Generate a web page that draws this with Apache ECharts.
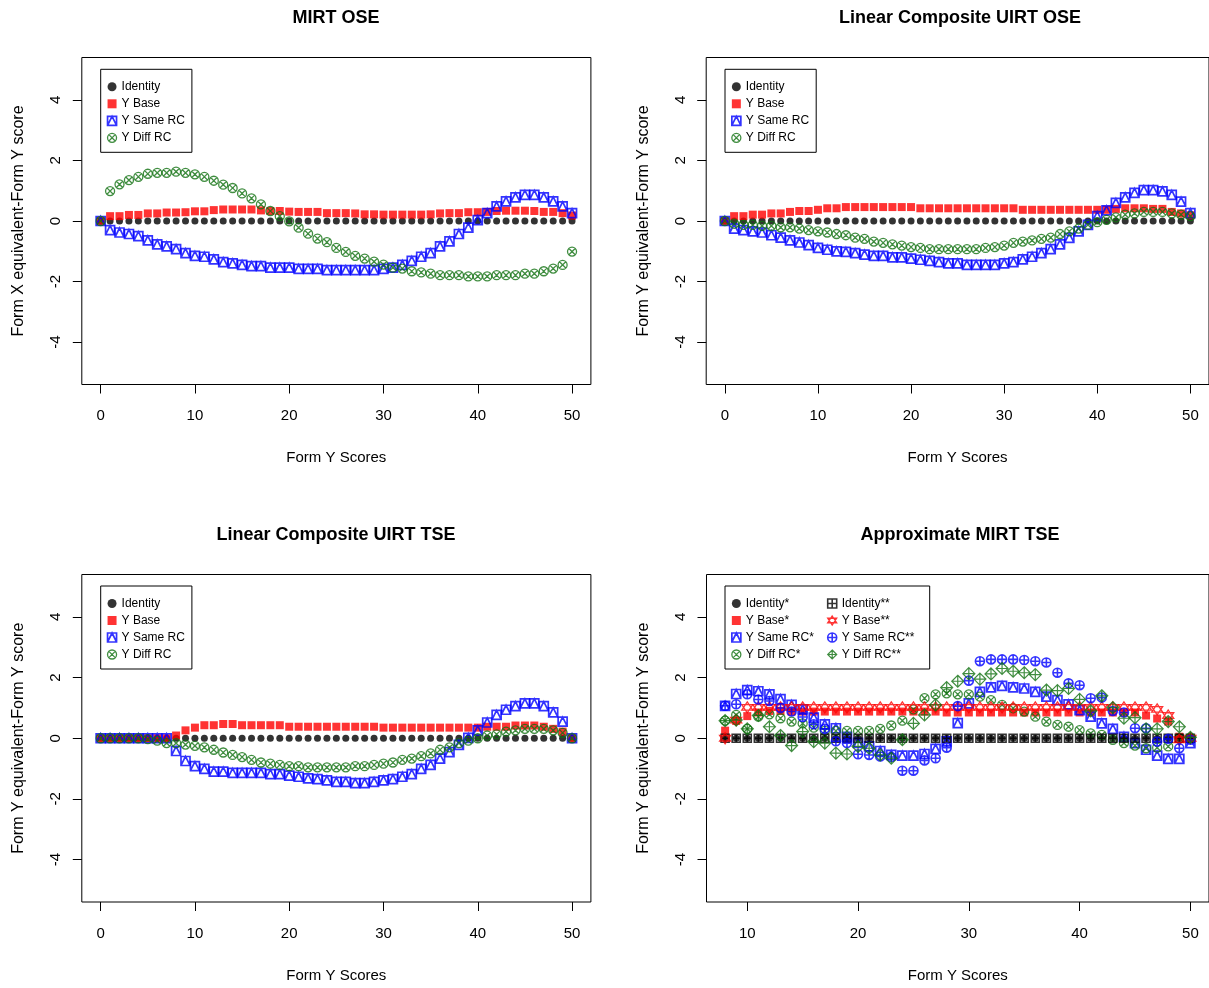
<!DOCTYPE html>
<html><head><meta charset="utf-8">
<script src="https://cdn.jsdelivr.net/npm/echarts@6/dist/echarts.min.js"></script>
<style>html,body{margin:0;padding:0;background:#fff}#c{width:1209px;height:988px}</style>
</head><body><div id="c"></div>
<script>
// ---------- data ----------
const scoresAll = [0,1,2,3,4,5,6,7,8,9,10,11,12,13,14,15,16,17,18,19,20,21,22,23,24,25,26,27,28,29,30,31,32,33,34,35,36,37,38,39,40,41,42,43,44,45,46,47,48,49,50];
const scores8 = [8,9,10,11,12,13,14,15,16,17,18,19,20,21,22,23,24,25,26,27,28,29,30,31,32,33,34,35,36,37,38,39,40,41,42,43,44,45,46,47,48,49,50];

const identity51 = [0,0,0,0,0,0,0,0,0,0,0,0,0,0,0,0,0,0,0,0,0,0,0,0,0,0,0,0,0,0,0,0,0,0,0,0,0,0,0,0,0,0,0,0,0,0,0,0,0,0,0];
const identity43 = [0,0,0,0,0,0,0,0,0,0,0,0,0,0,0,0,0,0,0,0,0,0,0,0,0,0,0,0,0,0,0,0,0,0,0,0,0,0,0,0,0,0,0];

// MIRT OSE
const mirtOseBase = [0,0.16,0.16,0.2,0.2,0.25,0.25,0.28,0.28,0.29,0.32,0.32,0.36,0.38,0.38,0.38,0.38,0.35,0.33,0.33,0.31,0.3,0.3,0.3,0.26,0.26,0.26,0.25,0.22,0.22,0.21,0.21,0.21,0.21,0.21,0.22,0.25,0.26,0.26,0.29,0.29,0.3,0.33,0.34,0.34,0.34,0.33,0.3,0.3,0.26,0.18];
const mirtOseSame = [0,-0.3,-0.38,-0.43,-0.5,-0.64,-0.77,-0.84,-0.93,-1.06,-1.15,-1.18,-1.27,-1.36,-1.4,-1.45,-1.49,-1.49,-1.54,-1.54,-1.54,-1.58,-1.58,-1.58,-1.62,-1.62,-1.62,-1.62,-1.62,-1.62,-1.58,-1.54,-1.45,-1.32,-1.18,-1.06,-0.84,-0.67,-0.43,-0.22,0.03,0.26,0.48,0.65,0.78,0.86,0.86,0.78,0.65,0.48,0.26];
const mirtOseDiff = [0,0.99,1.21,1.35,1.46,1.56,1.59,1.59,1.63,1.59,1.54,1.46,1.33,1.2,1.09,0.91,0.75,0.55,0.33,0.16,-0.01,-0.22,-0.42,-0.58,-0.7,-0.89,-1.02,-1.15,-1.24,-1.34,-1.44,-1.54,-1.57,-1.66,-1.7,-1.74,-1.79,-1.79,-1.79,-1.83,-1.83,-1.83,-1.79,-1.79,-1.79,-1.74,-1.74,-1.66,-1.57,-1.45,-1.01];

// Linear Composite UIRT OSE
const lcOseBase = [0,0.16,0.16,0.21,0.21,0.25,0.25,0.3,0.33,0.33,0.37,0.42,0.42,0.46,0.46,0.46,0.46,0.46,0.46,0.46,0.46,0.42,0.42,0.42,0.42,0.42,0.42,0.42,0.42,0.42,0.42,0.42,0.37,0.37,0.37,0.37,0.37,0.37,0.37,0.37,0.37,0.37,0.4,0.42,0.42,0.42,0.4,0.4,0.3,0.25,0.19];
const lcOseSame = [0,-0.25,-0.3,-0.34,-0.38,-0.47,-0.55,-0.64,-0.71,-0.8,-0.89,-0.95,-1.0,-1.02,-1.06,-1.11,-1.15,-1.15,-1.2,-1.2,-1.24,-1.28,-1.32,-1.36,-1.4,-1.4,-1.45,-1.45,-1.45,-1.45,-1.4,-1.36,-1.27,-1.18,-1.06,-0.93,-0.77,-0.56,-0.34,-0.13,0.16,0.35,0.6,0.78,0.93,1.02,1.02,0.98,0.86,0.64,0.26];
const lcOseDiff = [0,-0.09,-0.13,-0.13,-0.16,-0.16,-0.21,-0.21,-0.25,-0.3,-0.34,-0.38,-0.43,-0.47,-0.55,-0.59,-0.68,-0.72,-0.77,-0.81,-0.86,-0.89,-0.93,-0.93,-0.93,-0.93,-0.93,-0.93,-0.89,-0.86,-0.81,-0.72,-0.68,-0.64,-0.59,-0.55,-0.43,-0.34,-0.25,-0.13,-0.04,0.04,0.12,0.21,0.25,0.3,0.3,0.3,0.25,0.21,0.16];

// Linear Composite UIRT TSE
const lcTseBase = [0,0,0,0,0,0,0,0,0.09,0.26,0.35,0.43,0.43,0.47,0.47,0.43,0.43,0.43,0.43,0.43,0.38,0.38,0.38,0.38,0.38,0.38,0.38,0.38,0.38,0.38,0.35,0.35,0.35,0.35,0.35,0.35,0.35,0.35,0.35,0.35,0.35,0.38,0.38,0.38,0.42,0.42,0.42,0.38,0.31,0.22,0];
const lcTseSame = [0,0,0,0,0,0,0,0,-0.42,-0.75,-0.92,-1.01,-1.1,-1.1,-1.14,-1.14,-1.14,-1.14,-1.18,-1.18,-1.23,-1.27,-1.32,-1.35,-1.39,-1.44,-1.44,-1.48,-1.48,-1.44,-1.39,-1.35,-1.27,-1.18,-1.01,-0.88,-0.67,-0.46,-0.22,0.01,0.26,0.52,0.77,0.94,1.06,1.15,1.15,1.06,0.85,0.55,0];
const lcTseDiff = [0,0,0,0,0,-0.03,-0.08,-0.16,-0.16,-0.21,-0.25,-0.3,-0.38,-0.47,-0.55,-0.62,-0.71,-0.8,-0.84,-0.88,-0.92,-0.92,-0.96,-0.96,-0.96,-0.96,-0.96,-0.92,-0.92,-0.88,-0.84,-0.8,-0.71,-0.67,-0.59,-0.5,-0.38,-0.3,-0.16,-0.08,0,0.09,0.13,0.22,0.26,0.31,0.31,0.31,0.26,0.18,0];

// Approximate MIRT TSE (scores 8..50)
const apBaseA = [0.25,0.57,0.73,0.85,0.9,0.9,0.88,0.88,0.88,0.88,0.88,0.88,0.88,0.88,0.88,0.88,0.88,0.88,0.88,0.88,0.85,0.85,0.85,0.85,0.85,0.85,0.85,0.85,0.85,0.85,0.85,0.85,0.85,0.85,0.85,0.85,0.85,0.85,0.75,0.65,0.55,0.05,0];
const apSameA = [1.07,1.46,1.59,1.55,1.45,1.29,1.1,0.95,0.68,0.46,0.33,0.05,-0.15,-0.27,-0.42,-0.55,-0.57,-0.57,-0.52,-0.35,-0.1,0.5,1.15,1.53,1.68,1.73,1.68,1.64,1.53,1.37,1.26,1.12,0.93,0.71,0.49,0.31,0.05,-0.16,-0.38,-0.57,-0.68,-0.68,-0.16];
const apDiffA = [0.58,0.77,0.31,0.71,0.79,0.66,0.55,0.49,0.35,0.24,0.24,0.24,0.24,0.24,0.31,0.42,0.58,0.95,1.32,1.45,1.48,1.45,1.45,1.37,1.26,1.1,0.99,0.88,0.71,0.55,0.44,0.38,0.27,0.16,0.11,-0.05,-0.16,-0.24,-0.33,-0.31,-0.27,0,0];
const apBaseB = [0,0.6,1.02,1.02,1.02,1.02,1.02,1.02,1.02,1.02,1.02,1.02,1.02,1.02,1.02,1.02,1.02,1.02,1.02,1.02,1.02,1.02,1.02,1.02,1.02,1.02,1.02,1.02,1.02,1.02,1.02,1.02,1.02,1.02,1.02,1.02,1.02,1.02,1.02,0.95,0.75,-0.05,0];
const apSameB = [1.07,1.12,1.45,1.28,1.23,1.0,0.88,0.7,0.46,0.31,-0.1,-0.16,-0.53,-0.55,-0.6,-0.62,-1.07,-1.07,-0.73,-0.66,-0.31,1.06,1.9,2.54,2.6,2.6,2.6,2.58,2.54,2.5,2.16,1.81,1.75,1.32,1.34,0.9,0.85,0.33,0.33,-0.11,-0.02,-0.33,-0.05];
const apDiffB = [0.58,0.6,0.31,0.75,0.38,0.09,-0.24,0.22,-0.11,-0.16,-0.49,-0.52,-0.27,-0.33,-0.55,-0.66,-0.05,0.49,0.77,1.1,1.67,1.88,2.13,1.95,2.12,2.3,2.21,2.16,2.1,1.59,1.57,1.64,1.28,0.9,1.4,1.01,0.66,0.68,0.31,0.31,0.55,0.38,0.03];

// tick labels
const xTicksFull = [0,10,20,30,40,50];
const xTicks8 = [10,20,30,40,50];
const yTicks = [-4,-2,0,2,4];

const titles = ['MIRT OSE','Linear Composite UIRT OSE','Linear Composite UIRT TSE','Approximate MIRT TSE'];
const yNames = ['Form X equivalent-Form Y score','Form Y equivalent-Form Y score','Form Y equivalent-Form Y score','Form Y equivalent-Form Y score'];
const xName = 'Form Y Scores';
const legend4 = ['Identity','Y Base','Y Same RC','Y Diff RC'];
const legend8 = ['Identity*','Y Base*','Y Same RC*','Y Diff RC*','Identity**','Y Base**','Y Same RC**','Y Diff RC**'];

// ---------- styles ----------
const FONT = '"Liberation Sans", Arial, Helvetica, sans-serif';
const RED = '#ff0000', BLUE = '#0000ff', GREEN = '#107010', BLACK = '#000000';
const NOFILL = 'rgba(0,0,0,0)';
const SYM_SAME = 'path://M0,0L20,0L20,20L0,20Z M0,20L10,0L20,20';
const SYM_DIFF = 'path://M10,0A10,10,0,1,1,9.99,0Z M3,3L17,17 M17,3L3,17';
const SYM_IDB = 'path://M0,0L20,0L20,20L0,20Z M10,0L10,20 M0,10L20,10';
const SYM_STAR = 'path://M10,0L20,15L0,15Z M0,5L20,5L10,20Z';
const SYM_CPLUS = 'path://M10,0A10,10,0,1,1,9.99,0Z M10,0L10,20 M0,10L20,10';
const SYM_DPLUS = 'path://M10,0L20,10L10,20L0,10Z M10,0L10,20 M0,10L20,10';

const styles = {
  'Identity':   {symbol:'circle', symbolSize:7, itemStyle:{color:BLACK}},
  'Y Base':     {symbol:'rect', symbolSize:8, itemStyle:{color:RED}},
  'Y Same RC':  {symbol:SYM_SAME, symbolSize:9, itemStyle:{color:NOFILL, borderColor:BLUE, borderWidth:1.7}},
  'Y Diff RC':  {symbol:SYM_DIFF, symbolSize:9, itemStyle:{color:NOFILL, borderColor:GREEN, borderWidth:1.3}},
  'Identity*':  {symbol:'circle', symbolSize:7, itemStyle:{color:BLACK}},
  'Y Base*':    {symbol:'rect', symbolSize:8, itemStyle:{color:RED}},
  'Y Same RC*': {symbol:SYM_SAME, symbolSize:9, itemStyle:{color:NOFILL, borderColor:BLUE, borderWidth:1.7}},
  'Y Diff RC*': {symbol:SYM_DIFF, symbolSize:9, itemStyle:{color:NOFILL, borderColor:GREEN, borderWidth:1.3}},
  'Identity**': {symbol:SYM_IDB, symbolSize:8, itemStyle:{color:NOFILL, borderColor:BLACK, borderWidth:1.6}},
  'Y Base**':   {symbol:SYM_STAR, symbolSize:11, itemStyle:{color:NOFILL, borderColor:RED, borderWidth:1.3}},
  'Y Same RC**':{symbol:SYM_CPLUS, symbolSize:9, itemStyle:{color:NOFILL, borderColor:BLUE, borderWidth:1.6}},
  'Y Diff RC**':{symbol:SYM_DPLUS, symbolSize:12, itemStyle:{color:NOFILL, borderColor:GREEN, borderWidth:1.2}}
};

// ---------- layout ----------
const grids = [
  {left:81.8, top:57.5, width:509.1, height:327},
  {left:706.2, top:57.5, width:509.1, height:327},
  {left:81.8, top:574.5, width:509.1, height:327.5},
  {left:706.5, top:574.5, width:508.7, height:327.5}
];
const xRanges = [[-2,52],[-2,52],[-2,52],[6.32,51.68]];
const xTickSets = [xTicksFull, xTicksFull, xTicksFull, xTicks8];
const titlePos = [[336,9],[960,9],[336,526],[960,526]];
const legendPos = [[100.7,69.3],[725,69.3],[100.7,586],[725,586]];

function pairs(xs, ys){ return xs.map((x,i)=>[x, ys[i]]); }
function legendItems(names){
  return names.map(n=>({name:n, icon:styles[n].symbol, itemStyle:Object.assign({}, styles[n].itemStyle)}));
}

const panels = [
  {x:scoresAll, series:[['Identity',identity51],['Y Base',mirtOseBase],['Y Same RC',mirtOseSame],['Y Diff RC',mirtOseDiff]]},
  {x:scoresAll, series:[['Identity',identity51],['Y Base',lcOseBase],['Y Same RC',lcOseSame],['Y Diff RC',lcOseDiff]]},
  {x:scoresAll, series:[['Identity',identity51],['Y Base',lcTseBase],['Y Same RC',lcTseSame],['Y Diff RC',lcTseDiff]]},
  {x:scores8, series:[['Identity*',identity43],['Y Base*',apBaseA],['Y Same RC*',apSameA],['Y Diff RC*',apDiffA],
                      ['Identity**',identity43],['Y Base**',apBaseB],['Y Same RC**',apSameB],['Y Diff RC**',apDiffB]]}
];

const option = {
  backgroundColor:'#ffffff',
  animation:false,
  title: titles.map((t,i)=>({text:t, left:titlePos[i][0], top:titlePos[i][1], textAlign:'center', padding:0,
    textStyle:{fontFamily:FONT, fontSize:18, fontWeight:'bold', color:'#000'}})),
  grid: grids.map(g=>Object.assign({show:true, borderColor:'#000', borderWidth:1, backgroundColor:'rgba(0,0,0,0)'}, g)),
  xAxis: grids.map((g,i)=>({
    type:'value', gridIndex:i, min:xRanges[i][0], max:xRanges[i][1],
    axisLine:{show:false, onZero:false}, splitLine:{show:false},
    axisTick:{show:true, length:9, customValues:xTickSets[i], lineStyle:{color:'#000', width:1}},
    axisLabel:{customValues:xTickSets[i], fontFamily:FONT, fontSize:15, color:'#000', margin:24},
    name:xName, nameLocation:'middle', nameGap:66,
    nameTextStyle:{fontFamily:FONT, fontSize:15, color:'#000'}
  })),
  yAxis: grids.map((g,i)=>({
    type:'value', gridIndex:i, min:-5.4, max:5.4,
    axisLine:{show:false, onZero:false}, splitLine:{show:false},
    axisTick:{show:true, length:9, customValues:yTicks, lineStyle:{color:'#000', width:1}},
    axisLabel:{customValues:yTicks, rotate:90, fontFamily:FONT, fontSize:15, color:'#000', margin:18},
    name:yNames[i], nameLocation:'middle', nameGap:55,
    nameTextStyle:{fontFamily:FONT, fontSize:16, color:'#000'}
  })),
  legend: legendPos.map((p,i)=>({
    data: legendItems(i===3 ? legend8 : legend4),
    orient:'vertical', left:p[0], top:p[1],
    height: i===3 ? 70 : undefined,
    itemGap:0, itemWidth:9, itemHeight:9,
    borderColor:'#000', borderWidth:1, borderRadius:0,
    padding:[9,7,6,6], selectedMode:false,
    textStyle:{fontFamily:FONT, fontSize:12, lineHeight:17, color:'#000', width: i===3 ? 81 : undefined}
  })),
  series: []
};

panels.forEach((p,i)=>{
  p.series.forEach(([name, ys])=>{
    const st = styles[name];
    option.series.push({
      type:'scatter', name:name, xAxisIndex:i, yAxisIndex:i,
      symbol:st.symbol, symbolSize:st.symbolSize, itemStyle:st.itemStyle,
      data:pairs(p.x, ys), emphasis:{disabled:true}, silent:true
    });
  });
});

const chart = echarts.init(document.getElementById('c'), null, {renderer:'canvas'});
chart.setOption(option);
</script>
</body></html>
